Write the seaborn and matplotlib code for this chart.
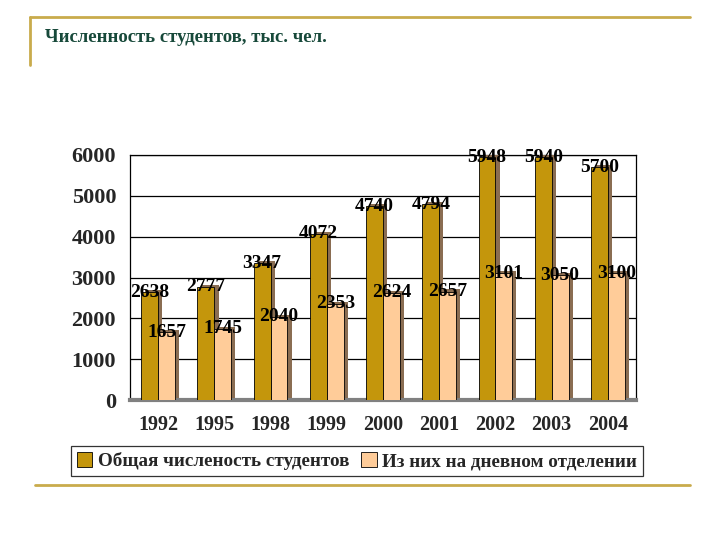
import pandas as pd
import matplotlib.pyplot as plt
import matplotlib.patheffects as pe
from matplotlib.lines import Line2D
import seaborn as sns

# данные
years = ['1992', '1995', '1998', '1999', '2000', '2001', '2002', '2003', '2004']
total = [2638, 2777, 3347, 4072, 4740, 4794, 5948, 5940, 5700]
daytime = [1657, 1745, 2040, 2353, 2624, 2657, 3101, 3050, 3100]
series_names = ['Общая численость студентов', 'Из них на дневном отделении']
title = 'Численность студентов, тыс. чел.'

df = pd.DataFrame({
    'Год': years * 2,
    'Значение': total + daytime,
    'Серия': [series_names[0]] * len(years) + [series_names[1]] * len(years),
})

sns.set_style('white')
plt.rcParams['font.family'] = ['Liberation Serif', 'DejaVu Serif']

fig = plt.figure(figsize=(7.2, 5.4), dpi=100)
ax = fig.add_axes([130 / 720, 1 - 400 / 540, 506 / 720, 245 / 540])

palette = {series_names[0]: '#c4960c', series_names[1]: '#ffcc99'}
sns.barplot(data=df, x='Год', y='Значение', hue='Серия', palette=palette,
            saturation=1, width=0.6, edgecolor='black', linewidth=0.6, ax=ax,
            legend=False, zorder=3)

# псевдо-3D тень
shadow = [pe.SimplePatchShadow(offset=(3, 1.5), shadow_rgbFace='#8a6d52', alpha=1.0),
          pe.Normal()]
for p in ax.patches:
    p.set_path_effects(shadow)

# подписи значений
for cont in ax.containers:
    for bar in cont:
        h = bar.get_height()
        ax.text(bar.get_x() + bar.get_width() / 2, h, f'{int(h)}',
                ha='center', va='center', fontsize=14, fontweight='bold',
                color='black', zorder=5)

ax.set_ylim(0, 6000)
ax.set_yticks(range(0, 6001, 1000))
ax.yaxis.grid(True, color='black', linewidth=0.9, zorder=0)
ax.set_axisbelow(True)
ax.set_xlabel('')
ax.set_ylabel('')
for s in ax.spines.values():
    s.set_color('black')
    s.set_linewidth(0.9)
ax.spines['bottom'].set_color('#808080')
ax.spines['bottom'].set_linewidth(3)
ax.tick_params(axis='y', length=0, pad=10)
ax.tick_params(axis='x', length=0, pad=11)
for lbl in ax.get_yticklabels():
    lbl.set_fontsize(16)
    lbl.set_fontweight('bold')
for lbl in ax.get_xticklabels():
    lbl.set_fontsize(14.5)
    lbl.set_fontweight('bold')

# легенда
handles = [plt.Rectangle((0, 0), 1, 1, facecolor=palette[n], edgecolor='black', linewidth=0.6)
           for n in series_names]
leg = fig.legend(handles, series_names, loc='center', bbox_to_anchor=(0.496, 1 - 461 / 540),
                 ncol=2, frameon=True, fancybox=False, edgecolor='black',
                 handlelength=0.8, handleheight=0.8, handletextpad=0.3,
                 columnspacing=0.6, borderpad=0.3,
                 prop={'family': 'Liberation Serif', 'weight': 'bold', 'size': 13.8})
leg.get_frame().set_linewidth(0.9)

# оформление слайда
gold = '#c9ab4c'
fig.add_artist(Line2D([30 / 720, 690 / 720], [1 - 17 / 540, 1 - 17 / 540], color=gold, linewidth=2))
fig.add_artist(Line2D([30 / 720, 30 / 720], [1 - 17 / 540, 1 - 65 / 540], color=gold, linewidth=2))
fig.add_artist(Line2D([35 / 720, 690 / 720], [1 - 485 / 540, 1 - 485 / 540], color=gold, linewidth=2))
fig.text(45 / 720, 1 - 38 / 540, title, fontsize=13.5, fontweight='bold',
         color='#17493a', ha='left', va='center')

fig.savefig('out.png', dpi=100)
